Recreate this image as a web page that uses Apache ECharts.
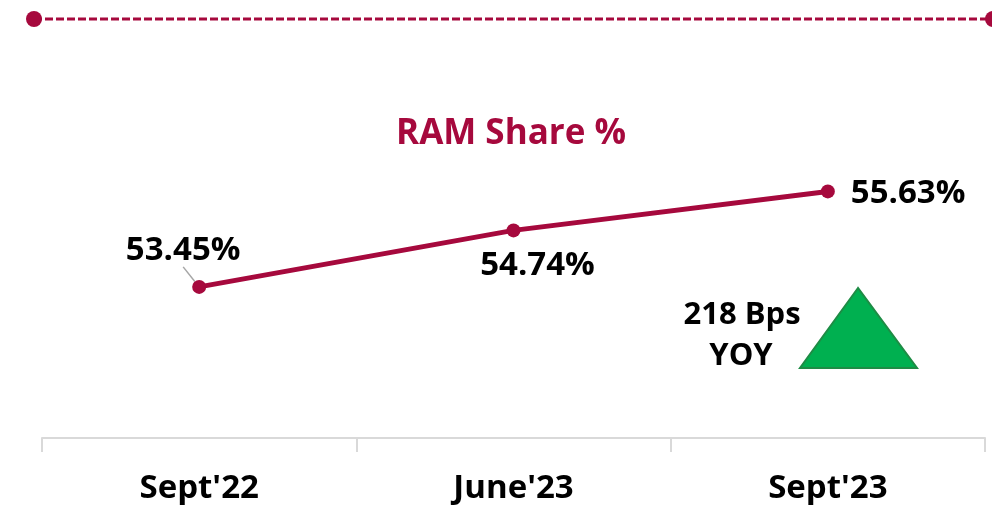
<!DOCTYPE html>
<html>
<head>
<meta charset="utf-8">
<script src="https://cdn.jsdelivr.net/npm/echarts@6/dist/echarts.min.js"></script>
<style>
  html, body { margin: 0; padding: 0; background: #fff; }
  #chart { width: 992px; height: 505px; }
</style>
</head>
<body>
<div id="chart"></div>
<script>
// data
const categories = ["Sept'22", "June'23", "Sept'23"]
const ramShare = [53.45, 54.74, 55.63]

const MAROON = '#A6093D'
const FONT = '"Open Sans", "Liberation Sans", sans-serif'

// basis point change year on year
const bps = Math.round((ramShare[2] - ramShare[0]) * 100)

// label side and nudge for each point
const labelSide = ['top', 'bottom', 'right']
const labelNudge = [[-16, -8], [24, 7], [11, 2]]

const chart = echarts.init(document.getElementById('chart'))
chart.setOption({
  animation: false,
  title: {
    text: 'RAM Share %',
    left: 506,
    top: 112,
    textAlign: 'center',
    textStyle: { color: MAROON, fontSize: 35, fontWeight: 'bold', fontFamily: FONT }
  },
  grid: { left: 42, right: 7, top: 0, bottom: 67 },
  xAxis: {
    type: 'category',
    data: categories,
    boundaryGap: true,
    axisLine: { lineStyle: { color: '#d9d9d9', width: 2 } },
    axisTick: { show: true, length: 14, lineStyle: { color: '#d9d9d9', width: 2 } },
    axisLabel: { color: '#000', fontSize: 33, fontWeight: 'bold', fontFamily: FONT, margin: 34 }
  },
  yAxis: {
    type: 'value',
    min: 50,
    max: 60,
    show: false
  },
  series: [
    {
      type: 'line',
      data: ramShare.map((v, i) => ({
        value: v,
        label: { position: labelSide[i] },
        labelLine: i === 0 ? { show: true, lineStyle: { color: '#a6a6a6', width: 1.5 } } : undefined
      })),
      symbol: 'circle',
      symbolSize: 14,
      lineStyle: { color: MAROON, width: 5 },
      itemStyle: { color: MAROON },
      label: {
        show: true,
        formatter: p => p.value.toFixed(2) + '%',
        color: '#000',
        fontSize: 33,
        fontWeight: 'bold',
        fontFamily: FONT
      },
      labelLayout: p => ({ dx: labelNudge[p.dataIndex][0], dy: labelNudge[p.dataIndex][1] })
    }
  ],
  graphic: [
    // dashed rule across the top
    {
      type: 'line',
      shape: { x1: 34, y1: 19, x2: 990, y2: 19 },
      style: { stroke: MAROON, lineWidth: 3, lineDash: [8, 3] }
    },
    { type: 'circle', shape: { cx: 34, cy: 19, r: 8 }, style: { fill: MAROON } },
    { type: 'circle', shape: { cx: 993, cy: 19, r: 8 }, style: { fill: MAROON } },
    // YOY marker
    {
      type: 'polygon',
      shape: { points: [[858, 288], [800, 368], [917, 368]] },
      style: { fill: '#00B050', stroke: '#1E8C45', lineWidth: 2 }
    },
    {
      type: 'text',
      x: 742, y: 315,
      style: {
        text: bps + ' Bps', fill: '#000', font: 'bold 31px ' + FONT,
        textAlign: 'center', textVerticalAlign: 'middle'
      }
    },
    {
      type: 'text',
      x: 741, y: 356,
      style: {
        text: 'YOY', fill: '#000', font: 'bold 31px ' + FONT,
        textAlign: 'center', textVerticalAlign: 'middle'
      }
    }
  ]
})
</script>
</body>
</html>
